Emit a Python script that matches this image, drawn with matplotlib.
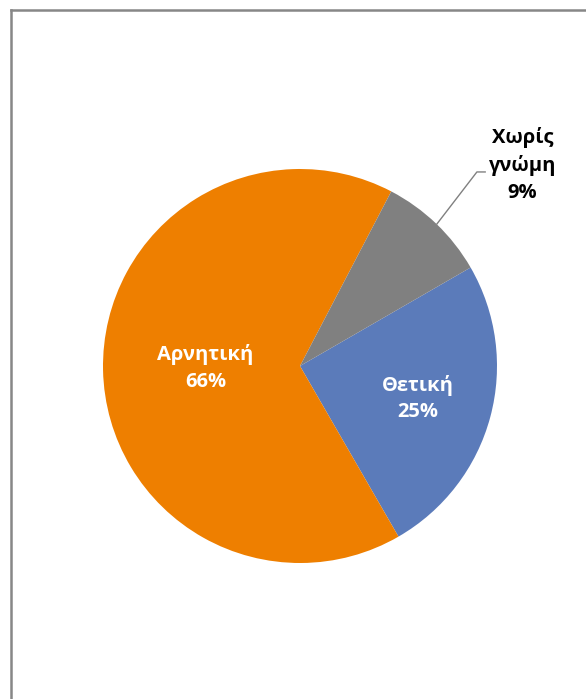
import matplotlib.pyplot as plt
from matplotlib.lines import Line2D

# data
labels = ['Θετική', 'Αρνητική', 'Χωρίς γνώμη']
values = [25, 66, 9]
colors = ['#5B7BBA', '#EE7F00', '#808080']

plt.rcParams['font.family'] = ['Open Sans', 'DejaVu Sans']

fig = plt.figure(figsize=(5.86, 6.99), dpi=100)

# outer frame (only left and top edges visible)
fig.add_artist(Line2D([10.5 / 586, 10.5 / 586], [0, 1 - 10 / 699], color='#878787', lw=1.8))
fig.add_artist(Line2D([10.5 / 586, 1], [1 - 10 / 699, 1 - 10 / 699], color='#878787', lw=1.8))

ax = fig.add_axes([103 / 586, 136 / 699, 394 / 586, 394 / 699])
wedges, _ = ax.pie(values, colors=colors, startangle=30, counterclock=False,
                   radius=1, wedgeprops=dict(linewidth=0))
ax.set_xlim(-1, 1)
ax.set_ylim(-1, 1)
ax.set_aspect('auto')
ax.axis('off')

pct = ['%d%%' % v for v in values]
fs = 14.5

ax.text(0.60, -0.165, labels[0] + '\n' + pct[0], ha='center', va='center',
        color='white', fontsize=fs, fontweight='bold', linespacing=1.45)
ax.text(-0.48, -0.01, labels[1] + '\n' + pct[1], ha='center', va='center',
        color='white', fontsize=fs, fontweight='bold', linespacing=1.45)
ax.text(1.13, 1.02, 'Χωρίς\nγνώμη\n' + pct[2], ha='center', va='center',
        color='black', fontsize=fs, fontweight='bold', linespacing=1.45)

# leader line for the small slice
ax.plot([0.695, 0.898, 0.94], [0.721, 0.985, 0.985], color='#808080', lw=1.0, clip_on=False)

fig.savefig('out.png', dpi=100)
